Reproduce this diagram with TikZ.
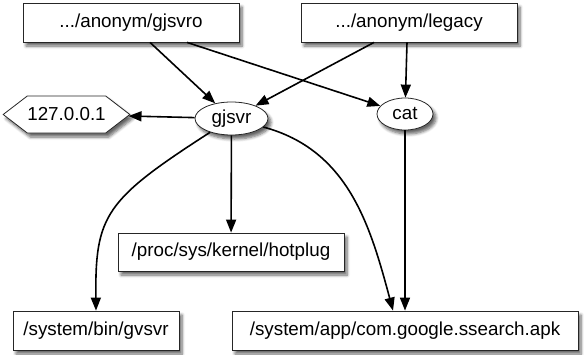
\documentclass[tikz,border=0pt]{standalone}
\usepackage{fontspec}
\setmainfont{Liberation Sans}
\usepackage{tikz}
\usetikzlibrary{arrows.meta, positioning, calc}
\usetikzlibrary{shapes.geometric, shapes.symbols, shadows.blur}

\begin{document}
\begin{tikzpicture}[
    x=1pt, y=-1pt,
    every node/.style={font=\fontsize{18.8}{22}\selectfont}, % 统一字体
    dropshade/.style={blur shadow={shadow xshift=3pt, shadow yshift=-4pt, shadow blur radius=3pt, shadow blur steps=6, shadow opacity=60}},
    filebox/.style={draw=black!85, line width=0.8pt, fill=white, inner sep=0pt, minimum height=39pt, dropshade},
    proc/.style={ellipse, draw=black!85, line width=0.8pt, fill=white, inner sep=0pt, minimum height=33pt, dropshade},
    host/.style={signal, signal to=west and east, signal pointer angle=75, draw=black!85, line width=0.8pt, fill=white, inner sep=0pt, minimum width=107pt, minimum height=37pt, dropshade},
    link/.style={-{Triangle[length=13pt, width=10pt]}, line width=1.6pt, black}
]
    % 0. 画布大小
    \useasboundingbox (0,0) rectangle (584,354);

    % 1. 上方两个目录
    \node[filebox, minimum width=216pt] (gjsvro) at (131,22.5) {.../anonym/gjsvro};
    \node[filebox, minimum width=216pt] (legacy) at (409,22.5) {.../anonym/legacy};

    % 2. 进程
    \node[proc, minimum width=73pt] (gjsvr) at (231.5,118.5) {gjsvr};
    \node[proc, minimum width=56pt, minimum height=32pt] (cat) at (405,114) {cat};
    \node[host] (ip) at (66.5,114.5) {127.0.0.1};

    % 3. 下方文件
    \node[filebox, minimum width=226pt, minimum height=38pt] (hotplug) at (231,252) {/proc/sys/kernel/hotplug};
    \node[filebox, minimum width=166pt] (gvsvr) at (96,330.5) {/system/bin/gvsvr};
    \node[filebox, minimum width=346pt] (apk) at (405,330.5) {/system/app/com.google.ssearch.apk};

    % 4. 连线
    \draw[link] ([xshift=19pt]gjsvro.south) -- (gjsvr);
    \draw[link] ([xshift=56pt]gjsvro.south) -- (cat);
    \draw[link] ([xshift=-35pt]legacy.south) -- (gjsvr);
    \draw[link] ([xshift=-2pt]legacy.south) -- (cat);
    \draw[link] (gjsvr) -- (ip);
    \draw[link] (gjsvr) -- (hotplug);
    \draw[link] (gjsvr) .. controls (105,200) and (95,215) .. (gvsvr.north);
    \draw[link] (gjsvr) to[out=-15, in=105] ([xshift=-12pt]apk.north);
    \draw[link] (cat) -- (apk);

\end{tikzpicture}
\end{document}
